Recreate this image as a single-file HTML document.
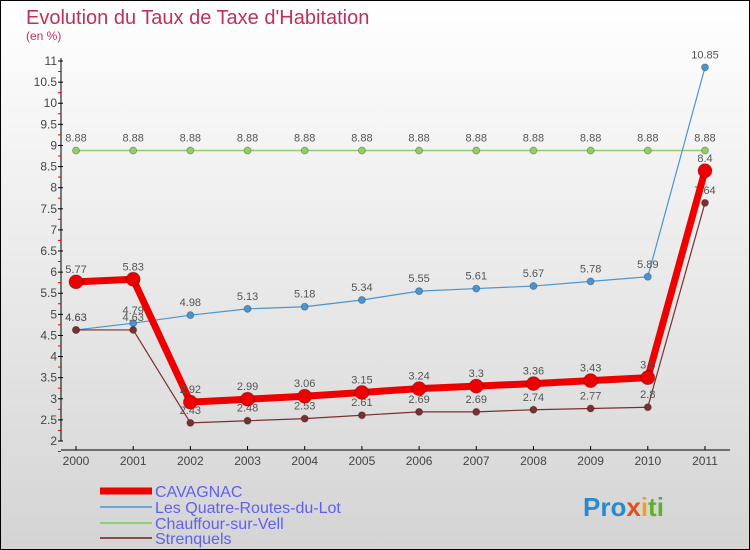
<!DOCTYPE html>
<html><head><meta charset="utf-8"><style>
body{margin:0}
#c{width:750px;height:550px;position:relative;overflow:hidden}
svg text{font-family:"Liberation Sans",sans-serif}
</style></head><body>
<div id="c">
<svg id="s" width="750" height="550">
<defs><linearGradient id="bg" x1="0" y1="0" x2="0" y2="1"><stop offset="0" stop-color="#ffffff"/><stop offset="1" stop-color="#d4d4d4"/></linearGradient></defs>
<rect x="0.5" y="0.5" width="749" height="549" fill="url(#bg)" stroke="#000"/>
<text x="26" y="24" font-size="20" fill="#c0305a">Evolution du Taux de Taxe d'Habitation</text>
<text x="26" y="40" font-size="12" fill="#c0305a">(en %)</text>
<g id="axes"></g><g id="series"></g>
<g>
<line x1="100" y1="491" x2="152" y2="491" stroke="#e00" stroke-width="7"/>
<text x="155" y="497" font-size="16" fill="#6060f0">CAVAGNAC</text>
<line x1="100" y1="507" x2="152" y2="507" stroke="#6aa8d8" stroke-width="2"/>
<text x="155" y="513" font-size="16" fill="#6060f0">Les Quatre-Routes-du-Lot</text>
<line x1="100" y1="523" x2="152" y2="523" stroke="#90d070" stroke-width="2"/>
<text x="155" y="529" font-size="16" fill="#6060f0">Chauffour-sur-Vell</text>
<line x1="100" y1="538" x2="152" y2="538" stroke="#8b4a4a" stroke-width="2"/>
<text x="155" y="544" font-size="16" fill="#6060f0">Strenquels</text>
</g>
<text x="583" y="516" font-size="26" font-weight="bold"><tspan fill="#2a8ad0">Pro</tspan><tspan fill="#e05020">x</tspan><tspan fill="#f0a020">i</tspan><tspan fill="#60b030">ti</tspan></text>
</svg></div>
<script>
const years=["2000","2001","2002","2003","2004","2005","2006","2007","2008","2009","2010","2011"];
const cavagnac=[5.77,5.83,2.92,2.99,3.06,3.15,3.24,3.3,3.36,3.43,3.5,8.4];
const quatre=[4.63,4.79,4.98,5.13,5.18,5.34,5.55,5.61,5.67,5.78,5.89,10.85];
const chauffour=[8.88,8.88,8.88,8.88,8.88,8.88,8.88,8.88,8.88,8.88,8.88,8.88];
const strenquels=[4.63,4.63,2.43,2.48,2.53,2.61,2.69,2.69,2.74,2.77,2.8,7.64];
const yTicks=["2","2.5","3","3.5","4","4.5","5","5.5","6","6.5","7","7.5","8","8.5","9","9.5","10","10.5","11"];
const NS="http://www.w3.org/2000/svg";
const X=i=>76+i*57.18, Y=v=>441-(v-2)*42.22;
function mk(t,a,p){const e=document.createElementNS(NS,t);for(const k in a)e.setAttribute(k,a[k]);p.appendChild(e);return e;}
const ax=document.getElementById('axes');
let e=mk('line',{x1:61,y1:58,x2:61,y2:441,stroke:'#000'},ax);


e=mk('line',{x1:61,y1:450,x2:730,y2:450,stroke:'#000'},ax);


yTicks.forEach(t=>{const v=parseFloat(t),y=Y(v);
 mk('line',{x1:58,y1:y,x2:63,y2:y,stroke:'#000'},ax);
 mk('line',{x1:58,y1:y+10.5,x2:61,y2:y+10.5,stroke:'#e00'},ax);
 const tx=mk('text',{x:57,y:y+4,'font-size':12,fill:'#444','text-anchor':'end'},ax);tx.textContent=t;
 
 });
years.forEach((t,i)=>{mk('line',{x1:X(i),y1:446,x2:X(i),y2:450,stroke:'#000'},ax);
 const tx=mk('text',{x:X(i),y:465,'font-size':12,fill:'#444','text-anchor':'middle'},ax);tx.textContent=t;
 
 });
const sg=document.getElementById('series');
function draw(d,col,w,r,name){const g=mk('g',{},sg);
 
 
 mk('polyline',{points:d.map((v,i)=>X(i)+','+Y(v)).join(' '),fill:'none',stroke:col,'stroke-width':w,'stroke-linejoin':'round'},g);
 d.forEach((v,i)=>{const c=mk('circle',{cx:X(i),cy:Y(v),r:r,fill:col,stroke:'rgba(0,0,0,0.25)'},g);
  
  
  const t=mk('text',{x:X(i),y:Y(v)-9,'font-size':11,fill:'#555','text-anchor':'middle'},g);t.textContent=String(v);});}
draw(chauffour,'#8fd060',1.5,3.5,'series-chauffour');
draw(quatre,'#4a95d0',1.2,3.5,'series-quatre-routes');
draw(strenquels,'#7a3030',1.2,3.5,'series-strenquels');
draw(cavagnac,'#ee0000',7,7,'series-cavagnac');
</script>
</body></html>
